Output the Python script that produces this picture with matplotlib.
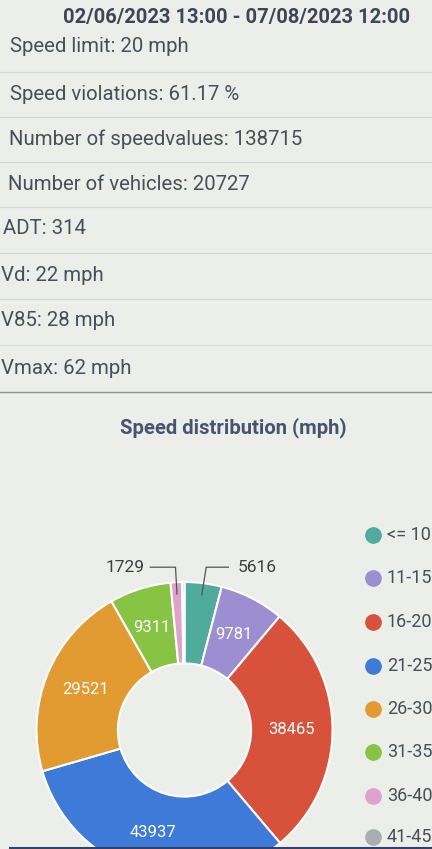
import matplotlib
matplotlib.use("Agg")
import matplotlib.pyplot as plt
from matplotlib.lines import Line2D
import numpy as np

# ---------------- data ----------------
header = "02/06/2023 13:00 - 07/08/2023 12:00"
info_rows = [
    "Speed limit: 20 mph",
    "Speed violations: 61.17 %",
    "Number of speedvalues: 138715",
    "Number of vehicles: 20727",
    "ADT: 314",
    "Vd: 22 mph",
    "V85: 28 mph",
    "Vmax: 62 mph",
]
chart_title = "Speed distribution (mph)"
categories = ["<= 10", "11-15", "16-20", "21-25", "26-30", "31-35", "36-40", "41-45"]
counts = [5616, 9781, 38465, 43937, 29521, 9311, 1729, 355]
colors = ["#4fab9c", "#9b8fd2", "#d8513a", "#3e7bd8", "#e29b30", "#88c443", "#e0a2cc", "#a9aeb1"]
outside_labels = {0: "right", 6: "left"}   # small slices labelled outside
hidden_labels = {7}

# ---------------- figure ----------------
W, H = 432, 849
fig = plt.figure(figsize=(W / 100, H / 100), dpi=100)
bg = "#eceee9"
fig.patch.set_facecolor(bg)
plt.rcParams["font.family"] = ["Roboto", "DejaVu Sans"]

def fx(px):
    return px / W

def fy(py):
    return 1 - py / H

text_col = "#4a4f57"

fig.text(fx(237), fy(18), header, ha="center", va="center",
         fontsize=14.5, fontweight="bold", color="#3e4555")

row_y = [47, 94, 139, 184, 229, 275, 321, 368]
row_x = [10, 10, 9, 8, 3, 1, 1, 1]
for t, x, y in zip(info_rows, row_x, row_y):
    fig.text(fx(x), fy(y), t, ha="left", va="center", fontsize=14.7, color=text_col)

sep_y = [72, 117, 162, 207, 253, 299, 345]
for y in sep_y:
    fig.add_artist(Line2D([0, 1], [fy(y), fy(y)], transform=fig.transFigure,
                          color="#d6d8d4", lw=0.9))
fig.add_artist(Line2D([0.0, 1], [fy(392), fy(392)], transform=fig.transFigure,
                      color="#8e9290", lw=1.0))

fig.text(fx(233), fy(428), chart_title, ha="center", va="center",
         fontsize=14.6, fontweight="bold", color="#4a5270")

# ---------------- donut ----------------
cx, cy, R = 184.5, 730, 148
ax = fig.add_axes([fx(cx - R), (H - cy - R) / H, 2 * R / W, 2 * R / H])
ax.axis("off")
width = 0.55
wedges, _ = ax.pie(counts, colors=colors, startangle=90, counterclock=False, radius=1,
                   wedgeprops=dict(width=width, edgecolor="white", linewidth=1.5))
ax.set_xlim(-1, 1)
ax.set_ylim(-1, 1)
ax.set_aspect("equal")
for w in wedges:
    w.set_clip_on(False)

rmid = 1 - width / 2
for i, (w, v) in enumerate(zip(wedges, counts)):
    ang = np.deg2rad((w.theta1 + w.theta2) / 2)
    if i in hidden_labels:
        continue
    if i in outside_labels:
        sx, sy = 0.92 * np.cos(ang), 0.92 * np.sin(ang)
        ey = 1.10
        if outside_labels[i] == "right":
            ex = sx + 0.03
            tx = ex + 0.15
            ax.plot([sx, ex, tx], [sy, ey, ey], color="#555555", lw=0.9, clip_on=False)
            ax.text(tx + 0.06, ey, str(v), ha="left", va="center", fontsize=12.5,
                    color="#3f3f3f")
        else:
            ex = sx - 0.01
            tx = ex - 0.17
            ax.plot([sx, ex, tx], [sy, ey, ey], color="#555555", lw=0.9, clip_on=False)
            ax.text(tx - 0.04, ey, str(v), ha="right", va="center", fontsize=12.5,
                    color="#3f3f3f")
    else:
        ax.text(rmid * np.cos(ang), rmid * np.sin(ang), str(v), ha="center", va="center",
                fontsize=12, color="white", clip_on=False)

# ---------------- legend ----------------
leg_y = [535, 578, 622, 666, 709, 752, 796, 837]
for lab, col, y in zip(categories, colors, leg_y):
    fig.add_artist(Line2D([fx(373)], [fy(y)], transform=fig.transFigure, marker="o",
                          markersize=11, markerfacecolor=col, markeredgecolor=col,
                          linestyle="none"))
    fig.text(fx(387), fy(y), lab, ha="left", va="center", fontsize=13, color=text_col)

# dark screen edge at the bottom
fig.add_artist(Line2D([fx(10), 1], [fy(848), fy(848)], transform=fig.transFigure,
                      color="#34406a", lw=2.2))

fig.savefig("out.png", dpi=100, facecolor=bg)
